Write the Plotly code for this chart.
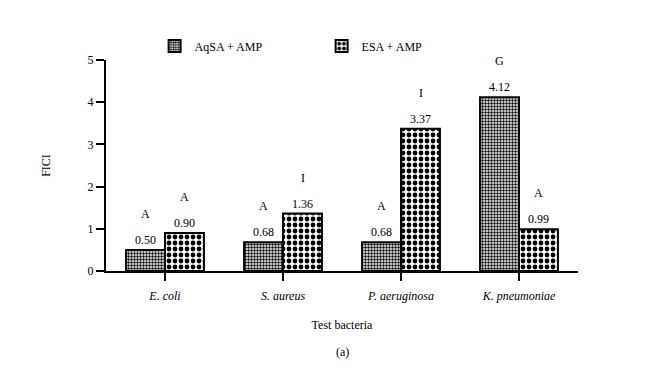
import plotly.graph_objects as go

categories = ["E. coli", "S. aureus", "P. aeruginosa", "K. pneumoniae"]
aqsa_values = [0.50, 0.68, 0.68, 4.12]
esa_values = [0.90, 1.36, 3.37, 0.99]
aqsa_letters = ["A", "A", "A", "G"]
esa_letters = ["A", "I", "I", "A"]
y_ticks = [0, 1, 2, 3, 4, 5]

FONT = "Liberation Serif, Times New Roman, serif"

fig = go.Figure()
fig.add_trace(go.Bar(
    name="AqSA + AMP", x=categories, y=aqsa_values,
    text=[f"{v:.2f}" for v in aqsa_values], textposition="outside",
    textfont=dict(family=FONT, size=12, color="black"),
    marker=dict(color="white", line=dict(color="black", width=2),
                pattern=dict(shape=".", size=3, solidity=0.5,
                             fgcolor="black", bgcolor="white", fillmode="replace")),
    cliponaxis=False,
))
fig.add_trace(go.Bar(
    name="ESA + AMP", x=categories, y=esa_values,
    text=[f"{v:.2f}" for v in esa_values], textposition="outside",
    textfont=dict(family=FONT, size=12, color="black"),
    marker=dict(color="white", line=dict(color="black", width=2),
                pattern=dict(shape=".", size=6, solidity=0.5,
                             fgcolor="black", bgcolor="white", fillmode="replace")),
    cliponaxis=False,
))

annotations = []
for cat, v, l in zip(categories, aqsa_values, aqsa_letters):
    annotations.append(dict(x=cat, y=v, text=l, showarrow=False, xshift=-19.5,
                            yanchor="bottom", yshift=27,
                            font=dict(family=FONT, size=12, color="black")))
for cat, v, l in zip(categories, esa_values, esa_letters):
    annotations.append(dict(x=cat, y=v, text=l, showarrow=False, xshift=19.5,
                            yanchor="bottom", yshift=27,
                            font=dict(family=FONT, size=12, color="black")))
annotations.append(dict(x=0.5, xref="paper", y=-0.384, yref="paper", text="(a)",
                        showarrow=False, yanchor="middle",
                        font=dict(family=FONT, size=12, color="black")))

fig.update_layout(
    width=660, height=376,
    margin=dict(l=98, r=90, t=52, b=113),
    paper_bgcolor="white", plot_bgcolor="white",
    barmode="group", bargap=0.34, bargroupgap=0,
    font=dict(family=FONT, size=12, color="black"),
    showlegend=True,
    legend=dict(orientation="h", x=0.103, y=1.066, xanchor="left", yanchor="middle",
                entrywidth=122, entrywidthmode="pixels",
                font=dict(family=FONT, size=12, color="black"),
                bgcolor="rgba(0,0,0,0)"),
    xaxis=dict(
        range=[-0.5, 3.5], showline=True, linecolor="black", linewidth=2,
        ticks="outside", ticklen=8, tickwidth=2, tickcolor="black",
        tickvals=categories, ticktext=[f"<i>{c}</i>" for c in categories],
        tickfont=dict(family=FONT, size=12, color="black"),
        ticklabelstandoff=5,
        title=dict(text="Test bacteria", standoff=18,
                   font=dict(family=FONT, size=12, color="black")),
        showgrid=False, zeroline=False,
    ),
    yaxis=dict(
        range=[0, 5], tickvals=y_ticks, showline=True, linecolor="black", linewidth=2,
        ticks="outside", ticklen=8, tickwidth=2, tickcolor="black",
        tickfont=dict(family=FONT, size=12, color="black"),
        title=dict(text="FICI", standoff=34,
                   font=dict(family=FONT, size=12, color="black")),
        showgrid=False, zeroline=False,
    ),
    annotations=annotations,
)

fig.write_html("out.html")
